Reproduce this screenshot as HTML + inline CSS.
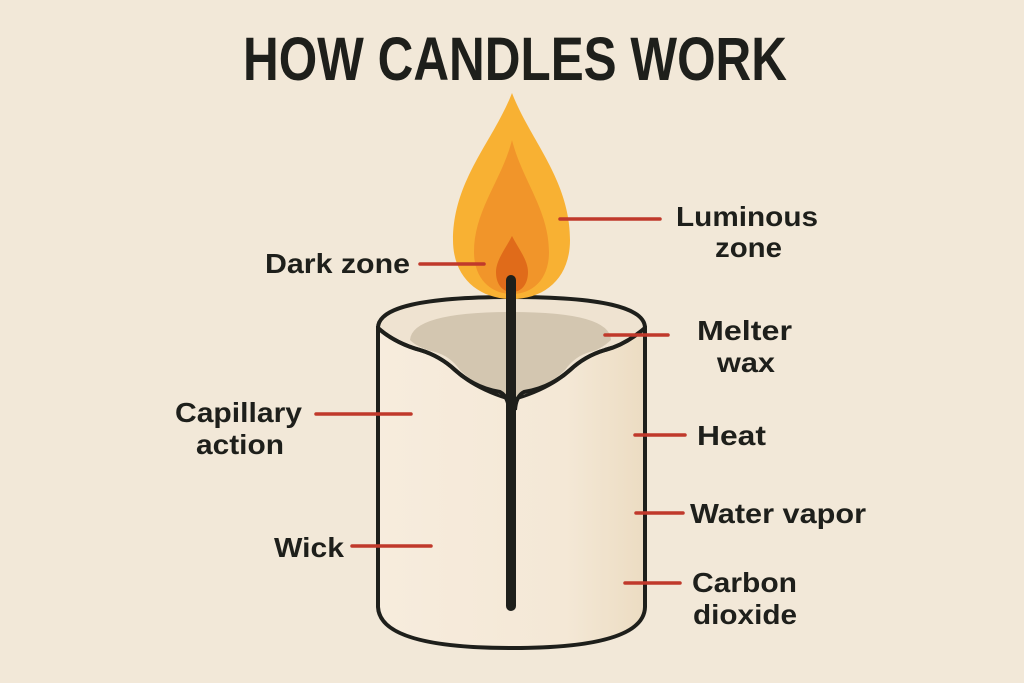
<!DOCTYPE html>
<html><head><meta charset="utf-8"><style>
html,body{margin:0;padding:0;background:#f2e8d8;}
svg{display:block;}
text{font-family:"Liberation Sans",sans-serif;fill:#1e1f1b;}
.l{font-size:28px;font-weight:bold;}
</style></head><body>
<svg width="1024" height="683" viewBox="0 0 1024 683" xmlns="http://www.w3.org/2000/svg">
<defs>
<linearGradient id="body" x1="0" x2="1">
<stop offset="0" stop-color="#f7ecdd"/><stop offset="0.7" stop-color="#f4e8d6"/><stop offset="1" stop-color="#ecdcc2"/>
</linearGradient>
</defs>
<rect width="1024" height="683" fill="#f2e8d8"/>
<text x="243" y="80" font-size="61" font-weight="bold" textLength="544" lengthAdjust="spacingAndGlyphs">HOW CANDLES WORK</text>

<path d="M378,328 L378,607 Q380,648 512,648 Q644,648 645,607 L645,328 Z" fill="url(#body)" stroke="#1e1f1b" stroke-width="4"/>
<path d="M378,328 Q378,297 512,297 Q645,297 645,328 Q625,345 605,350 Q585,356 570,370 Q550,388 517,398 L507,398 Q475,388 455,370 Q440,356 420,350 Q395,343 378,328 Z" fill="#efe3d1" stroke="#1e1f1b" stroke-width="4"/>
<path d="M410,340 Q412,312 512,312 Q610,312 611,340 Q600,350 590,352 Q575,356 565,370 Q545,390 512,398 Q480,390 460,370 Q450,356 435,352 Q418,348 410,340 Z" fill="#d3c6b0"/>
<path d="M378,328 Q395,343 420,350 Q440,356 455,370 Q475,388 500,392 Q508,396 509,410" fill="none" stroke="#1e1f1b" stroke-width="4"/>
<path d="M645,328 Q625,345 605,350 Q585,356 570,370 Q550,388 524,392 Q516,396 515,410" fill="none" stroke="#1e1f1b" stroke-width="4"/>

<path d="M512,93 C530,140 570,180 570,240 C570,278 545,299 512,299 C479,299 453,278 453,240 C453,180 494,140 512,93 Z" fill="#f8b133"/>
<path d="M512,140 C522,180 549,210 549,252 C549,279 533,294 512,294 C491,294 474,279 474,252 C474,210 502,180 512,140 Z" fill="#f1952a"/>
<path d="M512,236 C518,248 528,260 528,272 C528,285 521,292 512,292 C503,292 496,285 496,272 C496,260 506,248 512,236 Z" fill="#e06b1a"/>

<line x1="511" y1="280" x2="511" y2="606" stroke="#1e1f1b" stroke-width="10" stroke-linecap="round"/>

<g stroke="#c0392b" stroke-width="3.5" stroke-linecap="round">
<line x1="420" y1="264" x2="484" y2="264"/>
<line x1="560" y1="219" x2="660" y2="219"/>
<line x1="605" y1="335" x2="668" y2="335"/>
<line x1="316" y1="414" x2="411" y2="414"/>
<line x1="635" y1="435" x2="685" y2="435"/>
<line x1="352" y1="546" x2="431" y2="546"/>
<line x1="636" y1="513" x2="683" y2="513"/>
<line x1="625" y1="583" x2="680" y2="583"/>
</g>

<text class="l" x="265" y="273" textLength="145" lengthAdjust="spacingAndGlyphs">Dark zone</text>
<text class="l" x="676" y="226" textLength="142" lengthAdjust="spacingAndGlyphs">Luminous</text>
<text class="l" x="715" y="257" textLength="67" lengthAdjust="spacingAndGlyphs">zone</text>
<text class="l" x="697" y="340" textLength="95" lengthAdjust="spacingAndGlyphs">Melter</text>
<text class="l" x="717" y="372" textLength="58" lengthAdjust="spacingAndGlyphs">wax</text>
<text class="l" x="175" y="422" textLength="127" lengthAdjust="spacingAndGlyphs">Capillary</text>
<text class="l" x="196" y="454" textLength="88" lengthAdjust="spacingAndGlyphs">action</text>
<text class="l" x="697" y="445" textLength="69" lengthAdjust="spacingAndGlyphs">Heat</text>
<text class="l" x="274" y="557" textLength="70" lengthAdjust="spacingAndGlyphs">Wick</text>
<text class="l" x="690" y="523" textLength="176" lengthAdjust="spacingAndGlyphs">Water vapor</text>
<text class="l" x="692" y="592" textLength="105" lengthAdjust="spacingAndGlyphs">Carbon</text>
<text class="l" x="693" y="624" textLength="104" lengthAdjust="spacingAndGlyphs">dioxide</text>
</svg>
</body></html>
